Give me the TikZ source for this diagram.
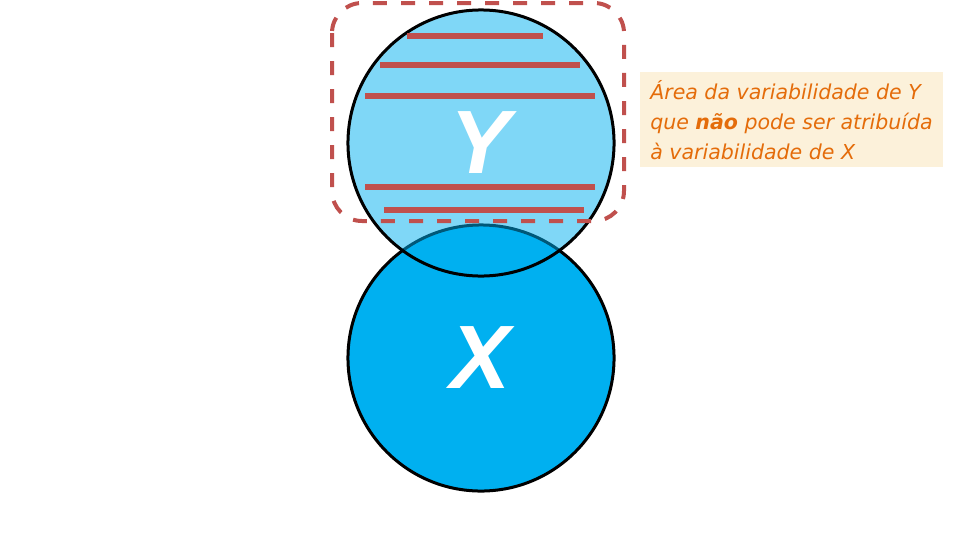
\documentclass[tikz,border=0pt]{standalone}
\usepackage{fontspec}
\setmainfont{DejaVu Sans}
\newfontfamily\letterfont{Liberation Sans}
\usetikzlibrary{positioning}
\definecolor{Sky}{HTML}{00B0F0}
\definecolor{Brick}{HTML}{C0504D}
\definecolor{Amber}{HTML}{E46C0A}
\definecolor{Sand}{HTML}{FCF1DA}

\begin{document}
\begin{tikzpicture}[
  x=0.025cm, y=-0.025cm,
  setcircle/.style={
    circle,
    draw=black,
    line width=0.075cm,
    fill=Sky,
    minimum size=6.65cm,
    inner sep=0pt,
    text=white,
    font=\letterfont\bfseries\itshape\fontsize{64}{64}\selectfont
  },
  hatch/.style={draw=Brick, line width=0.15cm},
  regionbox/.style={
    draw=Brick,
    line width=0.1cm,
    dash pattern=on 0.35cm off 0.35cm,
    rounded corners=0.75cm
  },
  note/.style={
    fill=Sand,
    text=Amber,
    anchor=north west,
    minimum width=7.55cm,
    minimum height=2.375cm,
    align=left,
    inner xsep=0.25cm,
    font=\itshape\fontsize{14.6}{21.3}\selectfont
  }
]
\useasboundingbox[fill=white] (0,0) rectangle (960,540);

\node[setcircle] (X) at (481,358) {X};
\node[setcircle, fill opacity=0.5, text opacity=1] (Y) at (481,143) {Y};

% faixas vermelhas sobre Y
\foreach \yy/\xa/\xb in {36/407/543, 65/380/580, 96/365/595, 187/365/595, 210/384/584}
  \draw[hatch] (\xa,\yy) -- (\xb,\yy);

\draw[regionbox] (332,3) rectangle (624,221);

\node[note] (area) at (640,72) {Área da variabilidade de Y\\que \textbf{não} pode ser atribuída\\à variabilidade de X};
\end{tikzpicture}
\end{document}
